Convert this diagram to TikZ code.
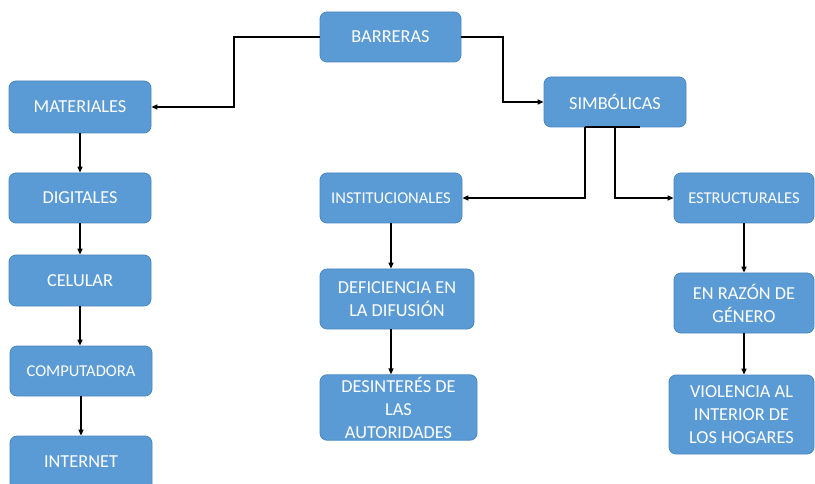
\documentclass[tikz,border=0pt]{standalone}
\usepackage{fontspec}
\setmainfont{Carlito}
\usetikzlibrary{arrows.meta}
\definecolor{boxfill}{HTML}{5B9BD5}
\definecolor{boxline}{HTML}{4A86BF}
\tikzset{
  box/.style={draw=boxline, line width=0.8pt, fill=boxfill, rounded corners=7pt,
    text=white, align=center, inner sep=2pt,
    font=\fontsize{18.3}{23}\selectfont},
  smallbox/.style={box, font=\fontsize{16.5}{20}\selectfont},
  arr/.style={draw=black, line width=1.4pt, -{Triangle[length=6pt,width=5pt]}},
  ln/.style={draw=black, line width=1.4pt}
}
\begin{document}
\begin{tikzpicture}[x=1pt,y=1pt]
\clip (0,0) rectangle (815,-484);
\useasboundingbox (0,0) rectangle (815,-484);
% boxes
\node[box, minimum width=141pt, minimum height=50pt] (barr) at (390.5,-37) {BARRERAS};
\node[box, minimum width=142pt, minimum height=52pt] (mat) at (80,-107) {MATERIALES};
\node[box, minimum width=142pt, minimum height=50pt] (dig) at (80,-198) {DIGITALES};
\node[box, minimum width=142pt, minimum height=51pt] (cel) at (80,-280.5) {CELULAR};
\node[smallbox, minimum width=142pt, minimum height=50pt] (comp) at (81,-371) {COMPUTADORA};
\node[box, minimum width=142pt, minimum height=58pt] (inet) at (81,-465) {};
\node[font=\fontsize{18.3}{23}\selectfont, text=white] (inettxt) at (81,-462) {INTERNET};
\node[box, minimum width=142pt, minimum height=50pt] (simb) at (615,-102) {SIMBÓLICAS};
\node[smallbox, minimum width=142pt, minimum height=50pt] (inst) at (391,-198) {INSTITUCIONALES};
\node[smallbox, minimum width=140pt, minimum height=50pt] (estr) at (744,-198) {ESTRUCTURALES};
\node[box, minimum width=154pt, minimum height=60pt] (defi) at (397,-299) {DEFICIENCIA EN\\LA DIFUSIÓN};
\node[box, minimum width=157pt, minimum height=65pt] (desi) at (398.5,-407.5) {DESINTERÉS DE\\LAS\\AUTORIDADES};
\node[box, minimum width=140pt, minimum height=60pt] (razon) at (744,-303) {EN RAZÓN DE\\GÉNERO};
\node[box, minimum width=145pt, minimum height=79pt] (viol) at (741.5,-414.5) {VIOLENCIA AL\\INTERIOR DE\\LOS HOGARES};
% helper coordinates
\coordinate (k1) at (234,-37);
\coordinate (k2) at (503,-37);
\coordinate (s1) at (585,-127);
\coordinate (s3) at (640,-127);
% connectors
\draw[arr] (barr.west) -- (k1) |- (mat.east);
\draw[arr] (barr.east) -- (k2) |- (simb.west);
\draw[ln] (s1) -- (s3);
\draw[arr] (s1) |- (inst.east);
\draw[arr] (simb.south) |- (estr.west);
\draw[arr] (mat.south) -- (dig.north);
\draw[arr] (dig.south) -- (cel.north);
\draw[arr] (cel.south) -- (cel.south |- comp.north);
\draw[arr] (comp.south) -- (inet.north);
\draw[arr] (inst.south) -- (inst.south |- defi.north);
\draw[arr] (inst.south |- defi.south) -- (inst.south |- desi.north);
\draw[arr] (estr.south) -- (razon.north);
\draw[arr] (razon.south) -- (razon.south |- viol.north);
\end{tikzpicture}
\end{document}
